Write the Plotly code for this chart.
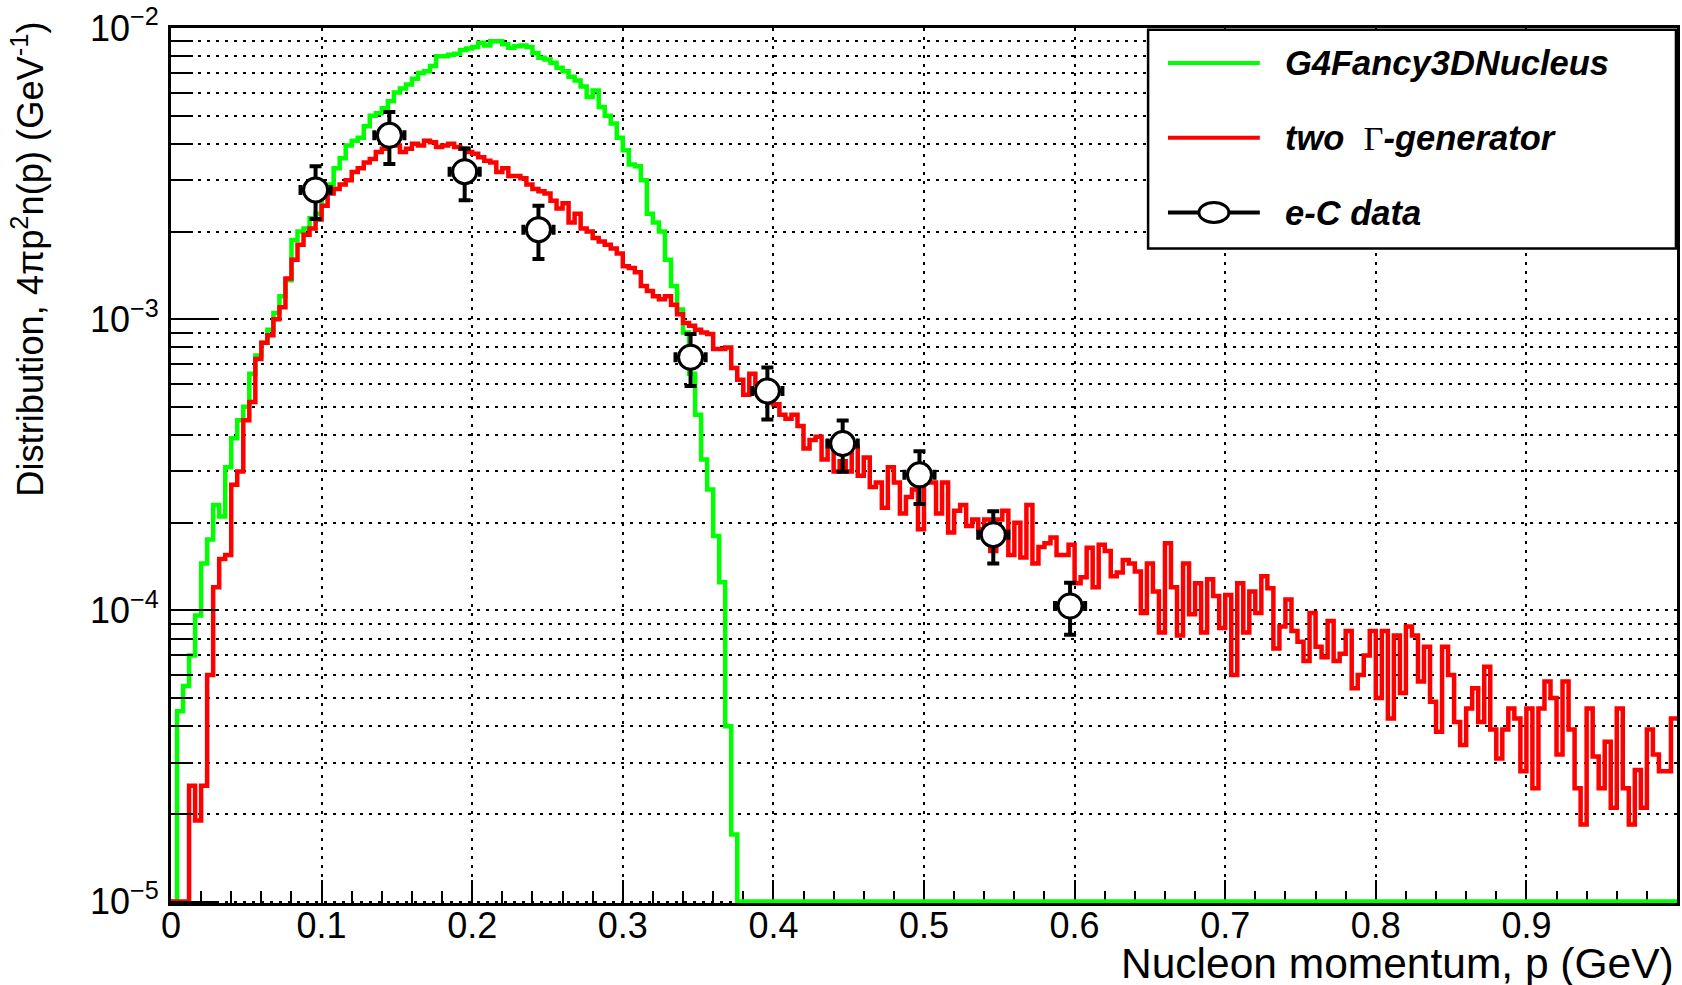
import plotly.graph_objects as go

# ---------------- data ----------------
bin_width = 0.004          # GeV per histogram bin
p_max = 1.0                # histogram upper edge (GeV)

# two Gamma-generator (red histogram), 250 bins of 0.004 GeV
red_counts = [
    0, 0, 0, 2.5e-5, 1.9e-5, 2.5e-5, 6.0e-5, 1.2e-4, 1.5e-4, 1.55e-4,
    2.7e-4, 3.0e-4, 4.5e-4, 5.2e-4, 7.3e-4, 8.3e-4, 8.8e-4, 1.0e-3, 1.1e-3, 1.38e-3,
    1.6e-3, 1.8e-3, 1.95e-3, 2.05e-3, 2.2e-3, 2.45e-3, 2.7e-3, 2.8e-3, 2.9e-3, 3.0e-3,
    3.2e-3, 3.3e-3, 3.45e-3, 3.55e-3, 3.75e-3, 3.85e-3, 3.95e-3, 3.95e-3, 3.75e-3, 3.85e-3,
    4.0e-3, 3.95e-3, 4.1e-3, 4.05e-3, 3.9e-3, 3.95e-3, 4.0e-3, 3.9e-3, 3.85e-3, 3.75e-3,
    3.7e-3, 3.6e-3, 3.5e-3, 3.45e-3, 3.2e-3, 3.3e-3, 3.1e-3, 3.1e-3, 3.05e-3, 2.9e-3,
    2.8e-3, 2.75e-3, 2.7e-3, 2.55e-3, 2.4e-3, 2.5e-3, 2.15e-3, 2.3e-3, 2.05e-3, 2.0e-3,
    1.9e-3, 1.85e-3, 1.8e-3, 1.75e-3, 1.68e-3, 1.52e-3, 1.5e-3, 1.45e-3, 1.3e-3, 1.25e-3,
    1.2e-3, 1.17e-3, 1.2e-3, 1.12e-3, 1.04e-3, 9.7e-4, 9.5e-4, 9.2e-4, 9.0e-4, 8.9e-4,
    7.9e-4, 7.9e-4, 8.0e-4, 6.8e-4, 6.2e-4, 5.5e-4, 6.5e-4, 6.0e-4, 5.3e-4, 5.15e-4,
    5.1e-4, 4.7e-4, 4.55e-4, 4.7e-4, 4.3e-4, 3.6e-4, 3.85e-4, 3.95e-4, 3.3e-4, 3.8e-4,
    3.0e-4, 3.25e-4, 3.0e-4, 3.65e-4, 2.9e-4, 3.35e-4, 2.65e-4, 2.75e-4, 2.25e-4, 3.1e-4,
    2.75e-4, 2.15e-4, 2.45e-4, 2.6e-4, 1.9e-4, 2.85e-4, 2.75e-4, 2.15e-4, 2.75e-4, 1.85e-4,
    2.2e-4, 2.3e-4, 1.95e-4, 2.05e-4, 1.9e-4, 2.05e-4, 1.6e-4, 2.05e-4, 2.2e-4, 1.55e-4,
    2.0e-4, 1.52e-4, 2.3e-4, 1.45e-4, 1.65e-4, 1.7e-4, 1.78e-4, 1.55e-4, 1.55e-4, 1.68e-4,
    1.24e-4, 1.3e-4, 1.64e-4, 1.2e-4, 1.68e-4, 1.6e-4, 1.31e-4, 1.35e-4, 1.49e-4, 1.45e-4,
    1.36e-4, 9.8e-5, 1.45e-4, 1.16e-4, 8.4e-5, 1.7e-4, 1.2e-4, 8.2e-5, 1.45e-4, 9.7e-5,
    1.24e-4, 8.4e-5, 1.28e-4, 1.12e-4, 8.7e-5, 1.13e-4, 6.0e-5, 1.24e-4, 8.4e-5, 1.16e-4,
    9.8e-5, 1.31e-4, 1.19e-4, 7.4e-5, 8.8e-5, 1.09e-4, 8.5e-5, 7.8e-5, 6.7e-5, 9.8e-5,
    7.5e-5, 6.9e-5, 9.2e-5, 6.7e-5, 7.1e-5, 8.5e-5, 5.4e-5, 6.0e-5, 7.0e-5, 8.5e-5,
    5.0e-5, 8.5e-5, 4.25e-5, 8.2e-5, 5.2e-5, 8.8e-5, 8.2e-5, 5.7e-5, 7.5e-5, 4.85e-5,
    3.83e-5, 7.5e-5, 6.0e-5, 4.14e-5, 3.45e-5, 4.6e-5, 5.4e-5, 4.14e-5, 6.4e-5, 3.9e-5,
    3.1e-5, 3.9e-5, 4.6e-5, 4.25e-5, 2.8e-5, 4.6e-5, 2.45e-5, 4.6e-5, 5.7e-5, 5.0e-5,
    3.2e-5, 5.7e-5, 3.9e-5, 2.45e-5, 1.84e-5, 4.6e-5, 3.15e-5, 2.45e-5, 3.54e-5, 2.1e-5,
    4.6e-5, 2.45e-5, 1.84e-5, 2.83e-5, 2.1e-5, 3.9e-5, 3.2e-5, 2.8e-5, 2.8e-5, 4.25e-5,
]

# G4Fancy3DNucleus (green histogram), non-empty bins 0..93 (0.004 GeV each)
green_counts = [
    0, 4.5e-5, 5.5e-5, 7.0e-5, 9.6e-5, 1.45e-4, 1.75e-4, 2.3e-4, 2.1e-4, 3.1e-4,
    3.9e-4, 4.5e-4, 5.0e-4, 6.5e-4, 7.5e-4, 8.3e-4, 9.2e-4, 1.05e-3, 1.2e-3, 1.36e-3,
    1.87e-3, 2.0e-3, 2.05e-3, 2.22e-3, 2.3e-3, 2.7e-3, 2.9e-3, 3.3e-3, 3.57e-3, 3.95e-3,
    4.1e-3, 4.2e-3, 4.6e-3, 5.0e-3, 5.1e-3, 5.3e-3, 5.6e-3, 6.0e-3, 6.2e-3, 6.4e-3,
    6.7e-3, 7.0e-3, 7.1e-3, 7.4e-3, 8.0e-3, 8.0e-3, 8.1e-3, 8.15e-3, 8.4e-3, 8.5e-3,
    8.6e-3, 8.9e-3, 8.7e-3, 9.0e-3, 9.0e-3, 8.8e-3, 8.55e-3, 8.65e-3, 8.7e-3, 8.6e-3,
    8.2e-3, 7.9e-3, 7.8e-3, 7.6e-3, 7.3e-3, 7.1e-3, 6.8e-3, 6.6e-3, 6.3e-3, 5.8e-3,
    6.1e-3, 5.35e-3, 5.0e-3, 4.7e-3, 4.2e-3, 3.8e-3, 3.4e-3, 3.35e-3, 3.0e-3, 2.3e-3,
    2.15e-3, 2.0e-3, 1.6e-3, 1.3e-3, 1.08e-3, 9.0e-4, 6.5e-4, 4.7e-4, 3.3e-4, 2.6e-4,
    1.8e-4, 1.25e-4, 4.0e-5, 1.7e-5,
]

# e-C data points
data_p = [0.096, 0.145, 0.195, 0.244, 0.345, 0.396, 0.446, 0.497, 0.546, 0.597]
data_val = [2.78e-3, 4.28e-3, 3.21e-3, 2.03e-3, 7.4e-4, 5.67e-4, 3.74e-4, 2.92e-4, 1.82e-4, 1.035e-4]
data_err = [0.57e-3, 0.87e-3, 0.65e-3, 0.42e-3, 1.5e-4, 1.15e-4, 0.75e-4, 0.6e-4, 0.37e-4, 0.21e-4]
data_perr = [0.01, 0.01, 0.01, 0.01, 0.01, 0.01, 0.01, 0.01, 0.01, 0.01]

x_ticks = [0, 0.1, 0.2, 0.3, 0.4, 0.5, 0.6, 0.7, 0.8, 0.9]
x_tick_labels = ["0", "0.1", "0.2", "0.3", "0.4", "0.5", "0.6", "0.7", "0.8", "0.9"]
y_ticks = [1e-5, 1e-4, 1e-3, 1e-2]
y_tick_labels = ["10<sup>\u22125</sup>", "10<sup>\u22124</sup>", "10<sup>\u22123</sup>", "10<sup>\u22122</sup>"]

legend_labels = ["G4Fancy3DNucleus", "two \u0393-generator", "e-C data"]

# ---------------- helpers ----------------
Y_FLOOR = 1e-5   # ROOT draws empty bins at the log-axis minimum
FONT = "Liberation Sans, Arial, Helvetica, sans-serif"


def step_points(vals):
    xs, ys = [], []
    for i, v in enumerate(vals):
        xs.append(i * bin_width)
        ys.append(v if v > 0 else Y_FLOOR)
    return xs, ys


fig = go.Figure()

# green histogram
gx, gy = step_points(green_counts)
end_green = len(green_counts) * bin_width
gx += [end_green, p_max]
gy += [Y_FLOOR, Y_FLOOR]
fig.add_trace(go.Scatter(x=gx, y=gy, mode="lines", line=dict(color="#00ff00", width=4.5, shape="hv"),
                         name=legend_labels[0], hoverinfo="skip"))

# red histogram
rx, ry = step_points(red_counts)
rx.append(len(red_counts) * bin_width)
ry.append(ry[-1])
fig.add_trace(go.Scatter(x=rx, y=ry, mode="lines", line=dict(color="#ff0000", width=4.5, shape="hv"),
                         name=legend_labels[1], hoverinfo="skip"))

# data points
fig.add_trace(go.Scatter(
    x=data_p, y=data_val, mode="markers", name=legend_labels[2],
    marker=dict(symbol="circle", size=24, color="white", line=dict(color="black", width=3)),
    error_y=dict(type="data", array=data_err, color="black", thickness=4, width=6),
    error_x=dict(type="data", array=data_perr, color="black", thickness=4, width=5),
))

# minor ticks
x_minor = [round(0.02 * k, 2) for k in range(1, 50) if k % 5 != 0]
y_minor = [m * 10.0 ** e for e in (-5, -4, -3) for m in range(2, 10)]

grid_dash = "3px,6px"

fig.update_xaxes(
    range=[0, p_max], tickmode="array", tickvals=x_ticks, ticktext=x_tick_labels,
    ticks="inside", ticklen=23, tickwidth=2, tickcolor="black",
    showline=True, linewidth=3, linecolor="black", mirror=True,
    showgrid=True, gridcolor="black", gridwidth=1.5, griddash=grid_dash,
    zeroline=False, layer="below traces",
    minor=dict(tickmode="array", tickvals=x_minor, ticks="inside", ticklen=12, tickwidth=2,
               tickcolor="black", showgrid=False),
    tickfont=dict(family=FONT, size=36, color="black"), ticklabelstandoff=-11,
)
fig.update_yaxes(
    type="log", range=[-5.005, -2.0], tickmode="array", tickvals=y_ticks, ticktext=y_tick_labels,
    ticks="inside", ticklen=45, tickwidth=2, tickcolor="black",
    showline=True, linewidth=3, linecolor="black", mirror=True,
    showgrid=True, gridcolor="black", gridwidth=1.5, griddash=grid_dash,
    zeroline=False,
    minor=dict(tickmode="array", tickvals=y_minor, ticks="inside", ticklen=22, tickwidth=2,
               tickcolor="black", showgrid=True, gridcolor="black", gridwidth=1.5, griddash=grid_dash),
    tickfont=dict(family=FONT, size=36, color="black"), ticklabelstandoff=2,
)

# legend box (manual, ROOT-like)
lg_x0, lg_x1, lg_y0, lg_y1 = 0.6488, 0.9993, 0.748, 0.998
row_y = [0.960, 0.8746, 0.7891]
line_x0, line_x1, text_x = 0.662, 0.723, 0.7382
shapes = [
    dict(type="rect", xref="paper", yref="paper", x0=lg_x0, x1=lg_x1, y0=lg_y0, y1=lg_y1,
         line=dict(color="black", width=2.5), fillcolor="white", layer="above"),
    dict(type="line", xref="paper", yref="paper", x0=line_x0, x1=line_x1, y0=row_y[0], y1=row_y[0],
         line=dict(color="#00ff00", width=4)),
    dict(type="line", xref="paper", yref="paper", x0=line_x0, x1=line_x1, y0=row_y[1], y1=row_y[1],
         line=dict(color="#ff0000", width=4)),
    dict(type="line", xref="paper", yref="paper", x0=line_x0, x1=line_x1, y0=row_y[2], y1=row_y[2],
         line=dict(color="black", width=4)),
    dict(type="circle", xref="paper", yref="paper", xsizemode="pixel", ysizemode="pixel",
         xanchor=(line_x0 + line_x1) / 2, yanchor=row_y[2], x0=-15, x1=15, y0=-10, y1=10,
         line=dict(color="black", width=3), fillcolor="white"),
]

legend_texts = [
    "<b><i>G4Fancy3DNucleus</i></b>",
    "<b><i>two\u00a0 </i></b><span style=\"font-family:'Liberation Serif'\">\u0393</span><b><i>-generator</i></b>",
    "<b><i>e-C data</i></b>",
]
annotations = []
for t, yy in zip(legend_texts, row_y):
    annotations.append(dict(xref="paper", yref="paper", x=text_x, y=yy, xanchor="left", yanchor="middle",
                            text=t, showarrow=False, font=dict(family=FONT, size=34.5, color="black")))

# axis titles
annotations.append(dict(xref="paper", yref="paper", x=0.9994, y=-0.0695, xanchor="right", yanchor="middle",
                        text="Nucleon momentum, p (GeV)", showarrow=False,
                        font=dict(family=FONT, size=42.5, color="black")))
annotations.append(dict(xref="paper", yref="paper", x=-0.0955, y=1.009, xanchor="center", yanchor="top",
                        textangle=-90, text="Distribution, 4\u03c0p<sup>2</sup>n(p) (GeV<sup>-1</sup>)",
                        showarrow=False, font=dict(family=FONT, size=36.3, color="black")))

fig.update_layout(
    width=1682, height=985, autosize=False,
    margin=dict(l=171, r=2, t=26, b=82),
    paper_bgcolor="white", plot_bgcolor="white",
    showlegend=False, shapes=shapes, annotations=annotations,
    font=dict(family=FONT, color="black"),
)

fig.write_html(
    "out.html",
    config={"displayModeBar": False},
    post_script="document.body.style.margin='0px';document.body.style.overflow='hidden';",
)
